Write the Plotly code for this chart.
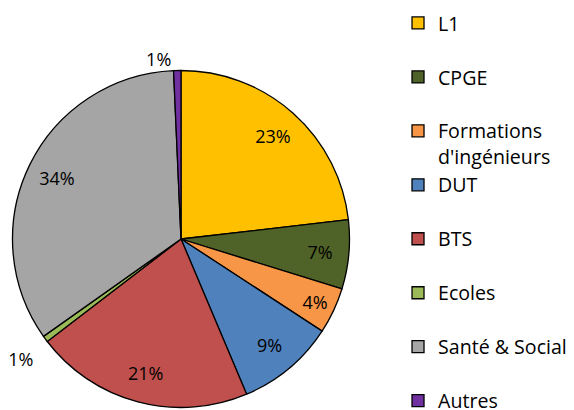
import plotly.graph_objects as go

categories = ["L1", "CPGE", "Formations<br>d'ingénieurs", "DUT", "BTS", "Ecoles", "Santé & Social", "Autres"]
values = [23.1, 6.6, 4.4, 9.4, 20.9, 0.6, 34.0, 0.7]
colors = ["#FFC000", "#4F6228", "#F79646", "#4F81BD", "#C0504D", "#9BBB59", "#A5A5A5", "#7030A0"]
text_positions = ["inside", "inside", "inside", "inside", "inside", "outside", "inside", "outside"]
text_templates = ["%{percent:.0%}"] * 5 + ["&nbsp;<br>%{percent:.0%}"] + ["%{percent:.0%}"] * 2

FONT = "Open Sans"
LABEL_PX = 18
LEGEND_PX = 19.6

# each legend entry (except the last) spans two text lines, as in the reference
legend_labels = [c if ("<br>" in c or i == len(categories) - 1) else c + "<br> "
                 for i, c in enumerate(categories)]

pie_domain = dict(x=[(181 - 168.5) / 574, (181 + 168.5) / 574], y=[2.5 / 410, 339.5 / 410])

fig = go.Figure()
fig.add_trace(go.Pie(
    labels=legend_labels,
    values=values,
    sort=False,
    direction="clockwise",
    rotation=0,
    marker=dict(colors=colors, line=dict(color="#000000", width=1.3)),
    textinfo="none",
    domain=pie_domain,
    hoverinfo="label+percent",
))
# transparent ring carrying the percentage labels (places them near the rim)
fig.add_trace(go.Pie(
    labels=legend_labels,
    values=values,
    sort=False,
    direction="clockwise",
    rotation=0,
    hole=0.64,
    marker=dict(colors=["rgba(0,0,0,0)"] * len(values), line=dict(width=0)),
    texttemplate=text_templates,
    textposition=text_positions,
    insidetextorientation="horizontal",
    textfont=dict(family=FONT, size=LABEL_PX, color="#000000"),
    domain=pie_domain,
    showlegend=False,
    hoverinfo="skip",
))

fig.update_layout(
    width=574, height=410,
    margin=dict(l=0, r=0, t=0, b=0, autoexpand=False),
    paper_bgcolor="white",
    font=dict(family=FONT, color="#000000"),
    showlegend=True,
    uniformtext=dict(minsize=LABEL_PX, mode="show"),
    legend=dict(
        x=0.6934, y=0.991, xanchor="left", yanchor="top",
        font=dict(family=FONT, size=LEGEND_PX, color="#000000"),
        valign="top",
        maxheight=700,
        bgcolor="rgba(0,0,0,0)",
    ),
)

fig.write_html("out.html", config={"displayModeBar": False},
               post_script="document.body.style.margin='0';")
